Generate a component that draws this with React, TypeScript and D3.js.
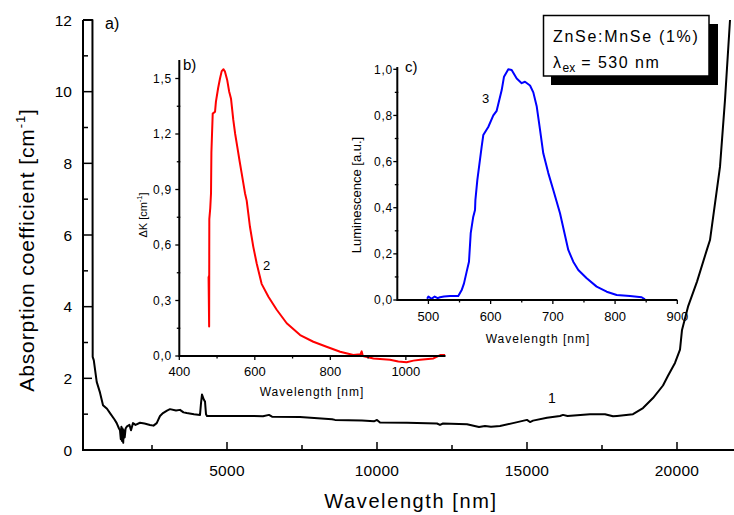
import React from 'react';
import * as d3 from 'd3';

// ---- Main curve (1): absorption coefficient ----
const mainWavelength = [200, 515, 523, 560, 657, 767, 867, 1000, 1100, 1250, 1323, 1400, 1433, 1460, 1480, 1500, 1520, 1540, 1560, 1590, 1620, 1657, 1750, 1800, 1867, 1950, 2100, 2250, 2433, 2550, 2657, 2767, 2867, 3000, 3100, 3300, 3433, 3550, 3657, 3900, 4100, 4133, 4167, 4230, 4267, 4300, 4333, 5000, 5767, 6200, 6400, 6500, 7433, 8500, 8600, 9500, 9900, 10000, 10100, 11000, 12000, 12100, 12200, 13000, 13400, 13600, 13800, 14100, 14533, 15000, 15100, 15200, 15667, 16100, 16200, 16350, 17100, 17600, 17867, 18000, 18533, 18867, 19200, 19533, 19700, 19933, 20100, 20167, 20367, 20667, 21000, 21100, 21433, 21600, 21767];
const mainAbsorption = [12, 12, 2.6, 2.5, 1.9, 1.6, 1.25, 1.15, 1.03, 0.85, 0.75, 0.6, 0.55, 0.3, 0.65, 0.25, 0.6, 0.2, 0.55, 0.35, 0.6, 0.65, 0.7, 0.55, 0.75, 0.7, 0.76, 0.74, 0.7, 0.68, 0.75, 0.95, 1.03, 1.1, 1.14, 1.1, 1.12, 1.05, 1.03, 1.0, 0.98, 1.3, 1.55, 1.4, 1.35, 1.0, 0.95, 0.95, 0.95, 0.94, 0.98, 0.93, 0.92, 0.86, 0.84, 0.82, 0.8, 0.84, 0.77, 0.76, 0.74, 0.7, 0.74, 0.72, 0.64, 0.67, 0.65, 0.67, 0.75, 0.84, 0.78, 0.82, 0.9, 0.95, 0.98, 0.95, 1.0, 1.0, 0.94, 0.95, 1.0, 1.17, 1.45, 1.8, 2.07, 2.43, 2.8, 3.35, 4.0, 4.7, 5.6, 5.86, 7.9, 9.77, 12];

// ---- Inset b (2): delta K ----
const dkWavelength = [476, 477.5, 479, 479.5, 482, 484, 485, 488.5, 494.6, 497, 503, 507.8, 512.3, 517, 521, 527, 532, 537, 543, 548, 553.6, 560, 565, 574, 578.5, 582.8, 587, 596, 605, 618, 636, 658, 684.5, 720, 755, 790, 826, 861, 880, 883, 886, 914, 958, 980, 1002, 1020, 1038, 1073, 1091, 1104];
const dkValue = [0.43, 0.43, 0.16, 0.74, 0.8, 0.88, 1.1, 1.31, 1.32, 1.375, 1.45, 1.5, 1.54, 1.55, 1.537, 1.49, 1.43, 1.39, 1.276, 1.2, 1.13, 1.05, 0.99, 0.88, 0.84, 0.77, 0.7, 0.59, 0.5, 0.39, 0.32, 0.25, 0.177, 0.113, 0.077, 0.05, 0.023, 0.005, 0.01, 0.025, 0.0, -0.013, -0.02, -0.03, -0.034, -0.025, -0.02, -0.013, 0.005, 0.005];

// ---- Inset c (3): luminescence ----
const lumWavelength = [498, 500, 505, 510, 515, 518.6, 525, 534.7, 548, 553.5, 557.2, 561.5, 565.2, 568, 572, 574.9, 575.5, 578.6, 585.6, 588.2, 596.2, 604.3, 609.7, 617.8, 621.5, 628.4, 633.8, 641.9, 649.9, 655.2, 663.3, 668.6, 674, 679.3, 684.6, 692.7, 700.7, 711.5, 724.8, 732.8, 740.9, 754.4, 770.4, 786.5, 802.6, 824, 842.7, 848];
const lumValue = [0.005, 0.015, 0.005, 0.015, 0.008, 0.012, 0.015, 0.017, 0.017, 0.043, 0.072, 0.123, 0.166, 0.29, 0.36, 0.39, 0.433, 0.52, 0.665, 0.715, 0.75, 0.8, 0.82, 0.91, 0.968, 1.0, 0.997, 0.96, 0.94, 0.946, 0.93, 0.9, 0.84, 0.74, 0.636, 0.55, 0.477, 0.376, 0.217, 0.166, 0.13, 0.094, 0.058, 0.036, 0.022, 0.017, 0.012, 0.003];

// ---- Ticks ----
const mainXTicks = [5000, 10000, 15000, 20000];
const mainXMinor = [2500, 7500, 12500, 17500];
const mainYTicks = [0, 2, 4, 6, 8, 10, 12];
const mainYMinor = [1, 3, 5, 7, 9, 11];
const bXTicks = [400, 600, 800, 1000];
const bXMinor = [500, 700, 900];
const bYTicks = [0, 0.3, 0.6, 0.9, 1.2, 1.5];
const bYMinor = [0.15, 0.45, 0.75, 1.05, 1.35];
const cXTicks = [500, 600, 700, 800, 900];
const cXMinor = [550, 650, 750, 850];
const cYTicks = [0, 0.2, 0.4, 0.6, 0.8, 1.0];
const cYMinor = [0.1, 0.3, 0.5, 0.7, 0.9];

const legendLine1 = 'ZnSe:MnSe (1%)';
const FONT = "Arial, 'Liberation Sans', sans-serif";

const comma = (v: number) => d3.format('.1f')(v).replace('.', ',');

export default function App() {
  // main scales
  const mx = d3.scaleLinear().domain([200, 22000]).range([83, 737]);
  const my = d3.scaleLinear().domain([0, 12]).range([450, 20]);
  // inset b
  const bx = d3.scaleLinear().domain([400, 1105]).range([179.3, 445.5]);
  const by = d3.scaleLinear().domain([0, 1.6]).range([356, 60]);
  // inset c
  const cx = d3.scaleLinear().domain([450, 900]).range([397.3, 677.3]);
  const cy = d3.scaleLinear().domain([0, 1.01]).range([300, 67]);

  const mainLine = d3.line<number>().x((d, i) => mx(mainWavelength[i])).y(d => my(d));
  const bLine = d3.line<number>().x((d, i) => bx(dkWavelength[i])).y(d => by(d));
  const cLine = d3.line<number>().x((d, i) => cx(lumWavelength[i])).y(d => cy(d));

  const [mx0, mx1] = mx.range();
  const [my0, my1] = my.range();

  return (
    <svg width={734} height={515} style={{ position: 'absolute', left: 0, top: 0, background: '#fff' }} fontFamily={FONT}>
      <rect x={0} y={0} width={734} height={515} fill="#fff" />
      <defs>
        <clipPath id="mainClip">
          <rect x={mx0} y={my1 - 1} width={734 - mx0} height={my0 - my1 + 1} />
        </clipPath>
      </defs>

      {/* ===== Main chart ===== */}
      <path d={mainLine(mainAbsorption) || ''} fill="none" stroke="#000" strokeWidth={2} strokeLinejoin="round" clipPath="url(#mainClip)" />
      <line x1={mx0} x2={734} y1={my0} y2={my0} stroke="#000" strokeWidth={2} />
      <line x1={mx0} x2={mx0} y1={my0 + 1} y2={my1} stroke="#000" strokeWidth={2} />
      {mainXTicks.map(t => (
        <g key={'mxt' + t}>
          <line x1={mx(t)} x2={mx(t)} y1={my0} y2={my0 - 8} stroke="#000" strokeWidth={1.5} />
          <text x={mx(t)} y={476} textAnchor="middle" fontSize={15.5} letterSpacing={0.3}>{t}</text>
        </g>
      ))}
      {mainXMinor.map(t => (
        <line key={'mxm' + t} x1={mx(t)} x2={mx(t)} y1={my0} y2={my0 - 5} stroke="#000" strokeWidth={1.5} />
      ))}
      {mainYTicks.map(t => (
        <g key={'myt' + t}>
          <line x1={mx0} x2={mx0 + 9} y1={my(t)} y2={my(t)} stroke="#000" strokeWidth={1.5} />
          <text x={72} y={my(t)} dy="0.36em" textAnchor="end" fontSize={15.5}>{t}</text>
        </g>
      ))}
      {mainYMinor.map(t => (
        <line key={'mym' + t} x1={mx0} x2={mx0 + 5} y1={my(t)} y2={my(t)} stroke="#000" strokeWidth={1.5} />
      ))}
      <text x={411} y={508} textAnchor="middle" fontSize={20} letterSpacing={1.6}>Wavelength [nm]</text>
      <text transform="translate(34,250) rotate(-90)" textAnchor="middle" fontSize={21} letterSpacing={0.9}>
        Absorption coefficient [cm<tspan dy={-9} fontSize={13}>-1</tspan><tspan dy={9}>]</tspan>
      </text>
      <text x={105} y={29} fontSize={16}>a)</text>
      <text x={548} y={403} fontSize={14}>1</text>

      {/* ===== Inset b ===== */}
      <path d={bLine(dkValue) || ''} fill="none" stroke="#ff0000" strokeWidth={2} strokeLinejoin="round" />
      <line x1={bx.range()[0]} x2={bx.range()[1]} y1={by(0)} y2={by(0)} stroke="#000" strokeWidth={2} />
      <line x1={bx.range()[0]} x2={bx.range()[0]} y1={by(0) + 1} y2={by.range()[1]} stroke="#000" strokeWidth={2} />
      {bXTicks.map(t => (
        <g key={'bxt' + t}>
          <line x1={bx(t)} x2={bx(t)} y1={by(0)} y2={by(0) + 4} stroke="#000" strokeWidth={1.3} />
          <text x={bx(t)} y={376} textAnchor="middle" fontSize={13}>{t}</text>
        </g>
      ))}
      {bXMinor.map(t => (
        <line key={'bxm' + t} x1={bx(t)} x2={bx(t)} y1={by(0) - 1} y2={by(0) + 2.5} stroke="#000" strokeWidth={1.3} />
      ))}
      {bYTicks.map(t => (
        <g key={'byt' + t}>
          <line x1={bx.range()[0] - 4} x2={bx.range()[0]} y1={by(t)} y2={by(t)} stroke="#000" strokeWidth={1.3} />
          <text x={172} y={by(t)} dy="0.36em" textAnchor="end" fontSize={12} letterSpacing={0.8}>{comma(t)}</text>
        </g>
      ))}
      {bYMinor.map(t => (
        <line key={'bym' + t} x1={bx.range()[0] - 2.5} x2={bx.range()[0] + 1} y1={by(t)} y2={by(t)} stroke="#000" strokeWidth={1.3} />
      ))}
      <text x={312} y={396} textAnchor="middle" fontSize={12} letterSpacing={1}>Wavelength [nm]</text>
      <text transform="translate(146.5,215) rotate(-90)" textAnchor="middle" fontSize={11}>
        ΔK [cm<tspan dy={-5} fontSize={7.5}>-1</tspan><tspan dy={5}>]</tspan>
      </text>
      <text x={183} y={70} fontSize={15}>b)</text>
      <text x={263} y={270} fontSize={13}>2</text>

      {/* ===== Inset c ===== */}
      <path d={cLine(lumValue) || ''} fill="none" stroke="#0000ff" strokeWidth={2} strokeLinejoin="round" />
      <line x1={cx.range()[0]} x2={cx.range()[1]} y1={cy(0)} y2={cy(0)} stroke="#000" strokeWidth={2} />
      <line x1={cx.range()[0]} x2={cx.range()[0]} y1={cy(0) + 1} y2={cy.range()[1]} stroke="#000" strokeWidth={2} />
      {cXTicks.map(t => (
        <g key={'cxt' + t}>
          <line x1={cx(t)} x2={cx(t)} y1={cy(0)} y2={cy(0) + 4} stroke="#000" strokeWidth={1.3} />
          <text x={cx(t)} y={321} textAnchor="middle" fontSize={13}>{t}</text>
        </g>
      ))}
      {cXMinor.map(t => (
        <line key={'cxm' + t} x1={cx(t)} x2={cx(t)} y1={cy(0) - 1} y2={cy(0) + 2.5} stroke="#000" strokeWidth={1.3} />
      ))}
      {cYTicks.map(t => (
        <g key={'cyt' + t}>
          <line x1={cx.range()[0] - 4} x2={cx.range()[0]} y1={cy(t)} y2={cy(t)} stroke="#000" strokeWidth={1.3} />
          <text x={393} y={cy(t)} dy="0.36em" textAnchor="end" fontSize={12} letterSpacing={0.8}>{comma(t)}</text>
        </g>
      ))}
      {cYMinor.map(t => (
        <line key={'cym' + t} x1={cx.range()[0] - 2.5} x2={cx.range()[0] + 1} y1={cy(t)} y2={cy(t)} stroke="#000" strokeWidth={1.3} />
      ))}
      <text x={538} y={343} textAnchor="middle" fontSize={12} letterSpacing={1}>Wavelength [nm]</text>
      <text transform="translate(361,195) rotate(-90)" textAnchor="middle" fontSize={13}>Luminescence [a.u.]</text>
      <text x={405} y={72} fontSize={15}>c)</text>
      <text x={482} y={103} fontSize={13}>3</text>

      {/* ===== Legend box ===== */}
      <rect x={551} y={24} width={167} height={61} fill="#000" />
      <rect x={543.5} y={15.5} width={165.5} height={60.5} fill="#fff" stroke="#000" strokeWidth={1.5} />
      <text x={553} y={42} fontSize={16} letterSpacing={1.7}>{legendLine1}</text>
      <text x={553} y={68} fontSize={16} letterSpacing={1.5}>
        λ<tspan dy={4} fontSize={12} letterSpacing={0}>ex</tspan><tspan dy={-4}> = 530 nm</tspan>
      </text>
    </svg>
  );
}
